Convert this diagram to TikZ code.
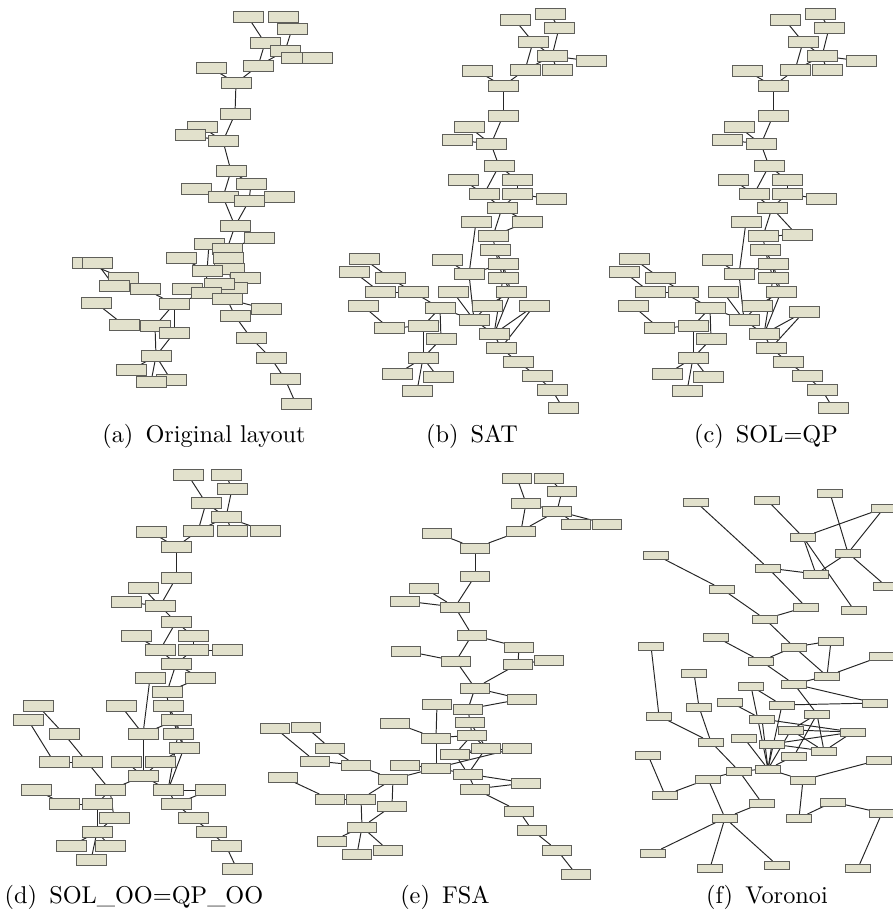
\documentclass[tikz,border=0pt]{standalone}
\usetikzlibrary{positioning}

\definecolor{sabbia}{RGB}{226,225,204}
\definecolor{bordo}{RGB}{95,95,90}

\pgfdeclarelayer{sfondo}
\pgfsetlayers{sfondo,main}

\tikzset{
    nodo/.style={draw=bordo, line width=0.4pt, fill=sabbia, rectangle, inner sep=0pt, outer sep=0pt, minimum width=12.35pt, minimum height=4.5pt},
    nodoE/.style={nodo, minimum width=11.9pt, minimum height=4.1pt},
    nodoF/.style={nodo, minimum width=10.3pt, minimum height=3.3pt},
    arco/.style={line width=0.4pt, black!85},
    didascalia/.style={anchor=base}
}

% archi comuni ai pannelli (a)-(e)
\def\archi{1/4,2/3,3/5,4/5,4/8,5/6,5/7,5/8,8/10,9/10,10/11,11/14,12/14,13/14,14/15,15/17,15/18,16/18,17/19,18/21,19/20,19/21,21/23,21/24,22/28,23/24,24/25,25/26,25/29,26/28,26/29,26/30,27/28,28/34,29/30,29/35,30/32,30/35,31/34,32/34,33/35,33/36,34/35,34/47,35/36,36/37,37/38,38/39,39/40,41/43,42/44,43/45,44/45,45/47,46/48,47/49,47/50,48/49,49/51,50/51,51/52,51/53,51/54}
% archi del pannello (f)
\def\archiF{1/8,2/5,3/6,4/5,4/6,5/9,5/13,6/9,6/10,7/11,8/9,8/12,11/14,12/14,14/17,15/20,17/20,16/17,16/22,17/22,20/23,19/22,22/23,23/27,23/29,24/26,26/27,24/42,26/42,25/31,31/33,31/42,29/32,29/37,29/38,32/33,32/37,33/36,33/37,36/37,38/42,36/42,34/42,32/42,18/30,21/28,28/35,30/35,35/41,41/42,41/43,43/45,39/45,41/46,42/44,44/40,44/50,43/49,46/49,49/51,49/53,49/52,50/47,47/48,48/54}

\begin{document}
\begin{tikzpicture}[x=0.4115pt, y=-0.4115pt]
        \clip (0,0) rectangle (893,913);

        % (a) Original layout
        \foreach \n/\x/\y in {1/248/17, 2/283/17, 3/292/29, 4/265/43, 5/285/51, 6/296/58, 7/317/58, 8/258/66, 9/211/68, 10/236/83, 11/235/114, 12/202/127, 13/190/135, 14/223/141, 15/231/171, 16/196/189, 17/251/184, 18/223/197, 19/249/201, 20/279/197, 21/235/226, 22/209/244, 23/259/238, 24/227/249, 25/228/258, 26/229/269, 27/181/258, 28/207/271, 29/245/278, 30/232/288, 31/187/289, 32/219/284, 33/266/309, 34/206/293, 35/227/299, 36/235/316, 37/251/338, 38/271/358, 39/285/379, 40/296/404, 41/87/263, 42/97/263, 43/123/278, 44/114/286, 45/145/289, 46/96/303, 47/174/304, 48/124/325, 49/155/326, 50/174/333, 51/156/356, 52/131/370, 53/171/380, 54/151/382}
            \node[nodo] (a\n) at (\x,\y) {};
        \node[didascalia] (capA) at (204,442) {(a)\enskip Original layout};

        % (b) SAT
        \foreach \n/\x/\y in {1/515/20, 2/550/14, 3/559/28, 4/533/42, 5/552/56, 6/591/61, 7/557/70, 8/525/70, 9/477/71, 10/503/86, 11/503/116, 12/469/127, 13/457/140, 14/491/144, 15/499/166, 16/463/180, 17/517/180, 18/484/194, 19/517/194, 20/551/199, 21/502/208, 22/476/222, 23/527/222, 24/493/236, 25/495/250, 26/503/264, 27/447/260, 28/469/274, 29/503/278, 30/511/292, 31/453/292, 32/487/306, 33/534/306, 34/474/320, 35/494/334, 36/501/348, 37/518/362, 38/537/376, 39/552/390, 40/563/408, 41/364/259, 42/354/272, 43/390/278, 44/380/292, 45/413/292, 46/363/306, 47/440/308, 48/389/328, 49/423/326, 50/441/339, 51/423/358, 52/397/374, 53/438/377, 54/417/391}
            \node[nodo] (b\n) at (\x,\y) {};
        \node[didascalia] (capB) at (472,442) {(b)\enskip SAT};

        % (c) SOL=QP
        \foreach \n/\x/\y in {1/785/20, 2/820/14, 3/829/28, 4/803/42, 5/822/56, 6/861/61, 7/827/70, 8/795/70, 9/747/71, 10/773/86, 11/773/116, 12/739/127, 13/727/140, 14/761/144, 15/769/166, 16/733/180, 17/787/180, 18/754/194, 19/787/194, 20/821/199, 21/772/208, 22/746/222, 23/797/235, 24/763/236, 25/765/250, 26/773/264, 27/717/260, 28/739/274, 29/773/278, 30/781/292, 31/723/292, 32/757/306, 33/804/312, 34/744/320, 35/764/334, 36/771/348, 37/788/362, 38/807/376, 39/822/390, 40/833/408, 41/634/259, 42/624/272, 43/660/278, 44/650/292, 45/683/292, 46/633/306, 47/710/308, 48/659/328, 49/693/326, 50/711/339, 51/693/358, 52/667/374, 53/708/377, 54/687/391}
            \node[nodo] (c\n) at (\x,\y) {};
        \node[didascalia] (capC) at (766,442) {(c)\enskip SOL=QP};

        % (d) SOL_OO=QP_OO
        \foreach \n/\x/\y in {1/188/475, 2/226/475, 3/232/489, 4/206/503, 5/226/517, 6/265/531, 7/232/531, 8/198/531, 9/151/532, 10/176/547, 11/176/578, 12/143/588, 13/126/602, 14/160/606, 15/176/622, 16/136/636, 17/193/636, 18/160/650, 19/193/650, 20/227/650, 21/176/664, 22/150/678, 23/200/678, 24/167/692, 25/168/706, 26/176/720, 27/121/706, 28/143/734, 29/178/734, 30/184/748, 31/126/762, 32/160/762, 33/210/790, 34/143/776, 35/168/790, 36/176/804, 37/193/818, 38/211/832, 39/226/846, 40/237/869, 41/38/706, 42/28/720, 43/64/734, 44/54/762, 45/87/762, 46/36/790, 47/110/790, 48/64/804, 49/97/804, 50/114/818, 51/97/832, 52/71/846, 53/110/846, 54/91/860}
            \node[nodo] (d\n) at (\x,\y) {};
        \node[didascalia] (capD) at (134,903) {(d)\enskip SOL\_OO=QP\_OO};

        % (e) FSA
        \foreach \n/\x/\y in {1/517/478, 2/549/478, 3/562/491, 4/526/503, 5/557/511, 6/607/524, 7/576/524, 8/521/531, 9/437/533, 10/475/548, 11/475/576, 12/424/588, 13/405/601, 14/455/607, 15/472/635, 16/406/651, 17/519/647, 18/456/661, 19/518/664, 20/549/660, 21/475/688, 22/437/704, 23/522/699, 24/468/709, 25/470/722, 26/472/735, 27/395/723, 28/436/738, 29/486/748, 30/455/754, 31/405/765, 32/517/748, 33/526/783, 34/436/768, 35/468/774, 36/475/789, 37/519/811, 38/532/830, 39/557/850, 40/576/874, 41/306/727, 42/275/728, 43/330/748, 44/315/761, 45/356/765, 46/283/777, 47/393/779, 48/330/799, 49/361/799, 50/392/806, 51/362/827, 52/332/841, 53/388/850, 54/357/854}
            \node[nodoE] (e\n) at (\x,\y) {};
        \node[didascalia] (capE) at (445,903) {(e)\enskip FSA};

        % (f) Voronoi
        \foreach \n/\x/\y in {1/696/502, 2/767/500, 3/830/493, 4/884/508, 5/803/537, 6/848/553, 7/656/555, 8/768/568, 9/816/574, 10/886/586, 11/722/589, 12/806/607, 13/854/610, 14/765/619, 15/716/637, 16/831/641, 17/794/647, 18/651/646, 19/882/656, 20/761/661, 21/694/673, 22/827/676, 23/794/684, 24/751/686, 25/730/702, 26/782/705, 27/875/703, 28/699/707, 29/817/714, 30/659/716, 31/762/719, 32/791/730, 33/853/732, 34/744/738, 35/711/742, 36/772/744, 37/824/751, 38/794/756, 39/648/755, 40/879/760, 41/739/771, 42/768/769, 43/708/779, 44/803/780, 45/665/795, 46/762/803, 47/833/802, 48/882/813, 49/725/818, 50/799/818, 51/653/853, 52/777/865, 53/710/868, 54/858/868}
            \node[nodoF] (f\n) at (\x,\y) {};
        \node[didascalia] (capF) at (767,903) {(f)\enskip Voronoi};

        % Archi
        \begin{pgfonlayer}{sfondo}
            \foreach \p in {a,b,c,d,e}{
                \foreach \u/\v in \archi
                    \draw[arco] (\p\u) -- (\p\v);
            }
            \foreach \u/\v in \archiF
                \draw[arco] (f\u) -- (f\v);
        \end{pgfonlayer}

    \end{tikzpicture}
\end{document}
